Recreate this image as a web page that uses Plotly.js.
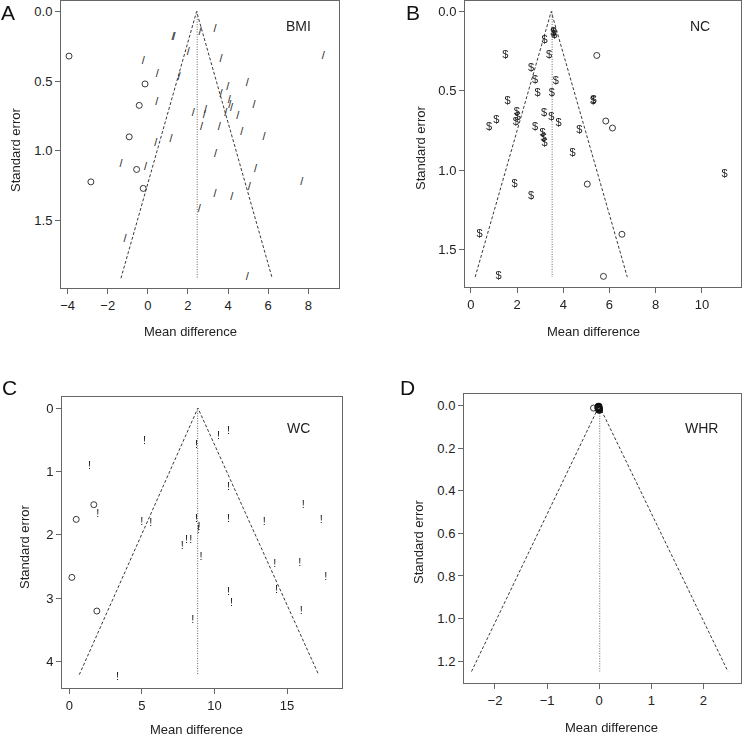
<!DOCTYPE html>
<html><head><meta charset="utf-8">
<script src="https://cdn.plot.ly/plotly-3.0.1.min.js"></script>
<style>html,body{margin:0;padding:0;background:#fff;}#chart{width:744px;height:736px;}
#chart svg text{-webkit-font-smoothing:antialiased;}</style>
</head><body><div id="chart"></div>
<script>
// ---------- DATA ----------
// Panel A: BMI
const A_obs_x = [3.35, 2.60, 1.25, 1.30, 2.02, 3.65, 8.75, -0.23, 0.47, 1.55, 4.96, 3.98, 3.65, 0.44, 4.06, 4.09, 4.17, 5.29, 2.88, 2.81, 2.27, 3.89, 4.48, 3.56, 2.68, 4.68, 5.79, 1.15, 0.39, 3.38, -1.34, -0.11, 5.37, 7.67, 5.06, 3.35, 4.18, 2.56, -1.14, 4.96];
const A_obs_y = [0.124, 0.148, 0.184, 0.184, 0.29, 0.34, 0.32, 0.358, 0.45, 0.47, 0.518, 0.547, 0.597, 0.654, 0.638, 0.674, 0.697, 0.674, 0.709, 0.745, 0.733, 0.733, 0.75, 0.829, 0.829, 0.865, 0.90, 0.92, 0.943, 1.027, 1.096, 1.115, 1.134, 1.223, 1.263, 1.311, 1.33, 1.419, 1.636, 1.908];
const A_fill_x = [-3.93, -0.14, -0.43, -0.93, -0.56, -2.84, -0.23];
const A_fill_y = [0.32, 0.52, 0.674, 0.90, 1.134, 1.223, 1.27];
const A_funnel_x = [-1.34, 2.43, 6.20];
const A_funnel_y = [1.915, 0, 1.915];
const A_center = 2.46, A_maxse = 1.915;

// Panel B: NC
const B_obs_x = [3.58, 3.61, 3.57, 3.19, 1.49, 3.39, 2.61, 2.78, 3.68, 2.89, 3.51, 5.31, 5.29, 1.59, 3.17, 1.99, 2.02, 1.95, 1.10, 0.79, 3.48, 3.80, 2.78, 4.69, 3.10, 3.15, 3.19, 4.40, 10.98, 1.89, 2.61, 0.375, 1.20];
const B_obs_y = [0.130, 0.151, 0.140, 0.183, 0.273, 0.277, 0.355, 0.434, 0.438, 0.518, 0.518, 0.560, 0.566, 0.566, 0.644, 0.634, 0.665, 0.696, 0.686, 0.732, 0.669, 0.707, 0.728, 0.745, 0.770, 0.801, 0.829, 0.892, 1.022, 1.085, 1.162, 1.405, 1.668];
const B_fill_x = [5.45, 5.84, 6.13, 5.04, 6.54, 5.74];
const B_fill_y = [0.277, 0.690, 0.734, 1.087, 1.403, 1.668];
const B_funnel_x = [0.19, 3.48, 6.77];
const B_funnel_y = [1.672, 0, 1.672];
const B_center = 3.52, B_maxse = 1.672;

// Panel C: WC
const C_obs_x = [10.97, 10.28, 5.18, 8.77, 1.40, 10.97, 16.12, 1.97, 8.77, 10.97, 17.36, 5.0, 13.42, 5.61, 8.93, 8.88, 8.36, 8.08, 7.79, 9.07, 14.15, 15.87, 17.66, 10.97, 14.27, 11.17, 15.98, 8.50, 3.32];
const C_obs_y = [0.363, 0.447, 0.521, 0.589, 0.921, 1.247, 1.537, 1.679, 1.758, 1.763, 1.774, 1.81, 1.80, 1.826, 1.879, 1.93, 2.089, 2.089, 2.179, 2.35, 2.468, 2.447, 2.679, 2.905, 2.879, 3.079, 3.205, 3.353, 4.258];
const C_fill_x = [1.69, 0.48, 0.18, 1.90];
const C_fill_y = [1.526, 1.758, 2.674, 3.205];
const C_funnel_x = [0.69, 8.86, 17.17];
const C_funnel_y = [4.21, 0, 4.21];
const C_center = 8.84, C_maxse = 4.21;

// Panel D: WHR
const D_obs_x = [-0.02, -0.01, -0.005, 0.0, -0.015, -0.01];
const D_obs_y = [0.006, 0.010, 0.015, 0.020, 0.012, 0.004];
const D_fill_x = [-0.11];
const D_fill_y = [0.011];
const D_funnel_x = [-2.45, 0, 2.47];
const D_funnel_y = [1.249, 0, 1.249];
const D_center = 0.01, D_maxse = 1.249;

const panelLetters = ['A', 'B', 'C', 'D'];
const panelNames = ['BMI', 'NC', 'WC', 'WHR'];
const xTitle = 'Mean difference';
const yTitle = 'Standard error';

// ---------- LAYOUT ----------
const W = 744, H = 736;
const FONT = 'Liberation Sans, Arial, Helvetica, sans-serif';
const TXT = '#222';
const LINE = '#666';
function dx(a, b) { return [a / W, b / W]; }
function dy(top, bottom) { return [1 - bottom / H, 1 - top / H]; }

const boxes = [
  {x: dx(61, 339), y: dy(0.5, 288), xr: [-4.33, 9.53], yr: [1.985, -0.079], xd: 2, yd: 0.5, yfmt: '.1f'},
  {x: dx(465, 741), y: dy(0.5, 287), xr: [-0.25, 11.69], yr: [1.735, -0.069], xd: 2, yd: 0.5, yfmt: '.1f'},
  {x: dx(62, 342), y: dy(397, 688), xr: [-0.50, 18.78], yr: [4.42, -0.174], xd: 5, yd: 1, yfmt: 'd'},
  {x: dx(464, 741), y: dy(394, 683), xr: [-2.594, 2.72], yr: [1.303, -0.055], xd: 1, yd: 0.2, yfmt: '.1f'}
];

const layout = {
  width: W, height: H, margin: {l: 0, r: 0, t: 0, b: 0},
  paper_bgcolor: '#fff', plot_bgcolor: '#fff', showlegend: false,
  font: {family: FONT, size: 13, color: TXT},
  annotations: []
};

boxes.forEach((b, i) => {
  const s = i === 0 ? '' : String(i + 1);
  layout['xaxis' + s] = {
    domain: b.x, anchor: 'y' + s, range: b.xr, dtick: b.xd, tick0: 0,
    showgrid: false, zeroline: false, showline: true, mirror: true,
    linecolor: LINE, linewidth: 1, ticks: 'outside', ticklen: 5, tickcolor: LINE,
    tickfont: {family: FONT, size: 13, color: TXT}
  };
  layout['yaxis' + s] = {
    domain: b.y, anchor: 'x' + s, range: b.yr, dtick: b.yd, tick0: 0, tickformat: b.yfmt,
    showgrid: false, zeroline: false, showline: true, mirror: true,
    linecolor: LINE, linewidth: 1, ticks: 'outside', ticklen: 5, tickcolor: LINE,
    tickfont: {family: FONT, size: 13, color: TXT}
  };
});

// panel letters, names, axis titles (positions in pixels)
const letterPos = [[8, 13], [413, 13], [9, 387], [408, 387]];
const namePos = [[298, 26], [700, 26], [298, 428], [701, 428]];
const yTitlePos = [[16, 150], [420, 148], [24, 547], [418, 542]];
const xTitlePos = [[190, 331], [593, 331], [196, 729], [611, 727]];
for (let i = 0; i < 4; i++) {
  layout.annotations.push({xref: 'paper', yref: 'paper', x: letterPos[i][0] / W, y: 1 - letterPos[i][1] / H,
    xanchor: 'center', yanchor: 'middle', showarrow: false, text: panelLetters[i], font: {size: 21, color: '#111', family: FONT}});
  layout.annotations.push({xref: 'paper', yref: 'paper', x: namePos[i][0] / W, y: 1 - namePos[i][1] / H,
    xanchor: 'center', yanchor: 'middle', showarrow: false, text: panelNames[i], font: {size: 14, color: TXT, family: FONT}});
  layout.annotations.push({xref: 'paper', yref: 'paper', x: yTitlePos[i][0] / W, y: 1 - yTitlePos[i][1] / H,
    xanchor: 'center', yanchor: 'middle', showarrow: false, textangle: -90, text: yTitle, font: {size: 13, color: TXT, family: FONT}});
  layout.annotations.push({xref: 'paper', yref: 'paper', x: xTitlePos[i][0] / W, y: 1 - xTitlePos[i][1] / H,
    xanchor: 'center', yanchor: 'middle', showarrow: false, text: xTitle, font: {size: 13, color: TXT, family: FONT}});
}

// ---------- TRACES ----------
const traces = [];
function panel(i, fx, fy, cx, maxse, ox, oy, sym, fillx, filly) {
  const s = i === 0 ? '' : String(i + 1);
  const xa = 'x' + s, ya = 'y' + s;
  traces.push({x: fx, y: fy, xaxis: xa, yaxis: ya, mode: 'lines', hoverinfo: 'skip',
    line: {color: '#222', width: 0.9, dash: '3px,2px'}});
  traces.push({x: [cx, cx], y: [0, maxse], xaxis: xa, yaxis: ya, mode: 'lines', hoverinfo: 'skip',
    line: {color: '#666', width: 1, dash: '1px,1.5px'}});
  if (sym) {
    traces.push({x: ox, y: oy, xaxis: xa, yaxis: ya, mode: 'text', text: ox.map(() => sym), opacity: 0.99,
      textposition: 'middle center', textfont: {family: FONT, size: 11, color: '#1a1a1a'}});
  } else {
    traces.push({x: ox, y: oy, xaxis: xa, yaxis: ya, mode: 'markers',
      marker: {symbol: 'circle-open', size: 6, color: '#111', line: {width: 1.6, color: '#111'}}});
  }
  traces.push({x: fillx, y: filly, xaxis: xa, yaxis: ya, mode: 'markers',
    marker: {symbol: 'circle-open', size: 6, color: '#222', line: {width: 0.9, color: '#222'}}});
}
panel(0, A_funnel_x, A_funnel_y, A_center, A_maxse, A_obs_x, A_obs_y, '/', A_fill_x, A_fill_y);
panel(1, B_funnel_x, B_funnel_y, B_center, B_maxse, B_obs_x, B_obs_y, '$', B_fill_x, B_fill_y);
panel(2, C_funnel_x, C_funnel_y, C_center, C_maxse, C_obs_x, C_obs_y, '!', C_fill_x, C_fill_y);
panel(3, D_funnel_x, D_funnel_y, D_center, D_maxse, D_obs_x, D_obs_y, null, D_fill_x, D_fill_y);

Plotly.newPlot('chart', traces, layout, {staticPlot: true, displayModeBar: false});
</script></body></html>
